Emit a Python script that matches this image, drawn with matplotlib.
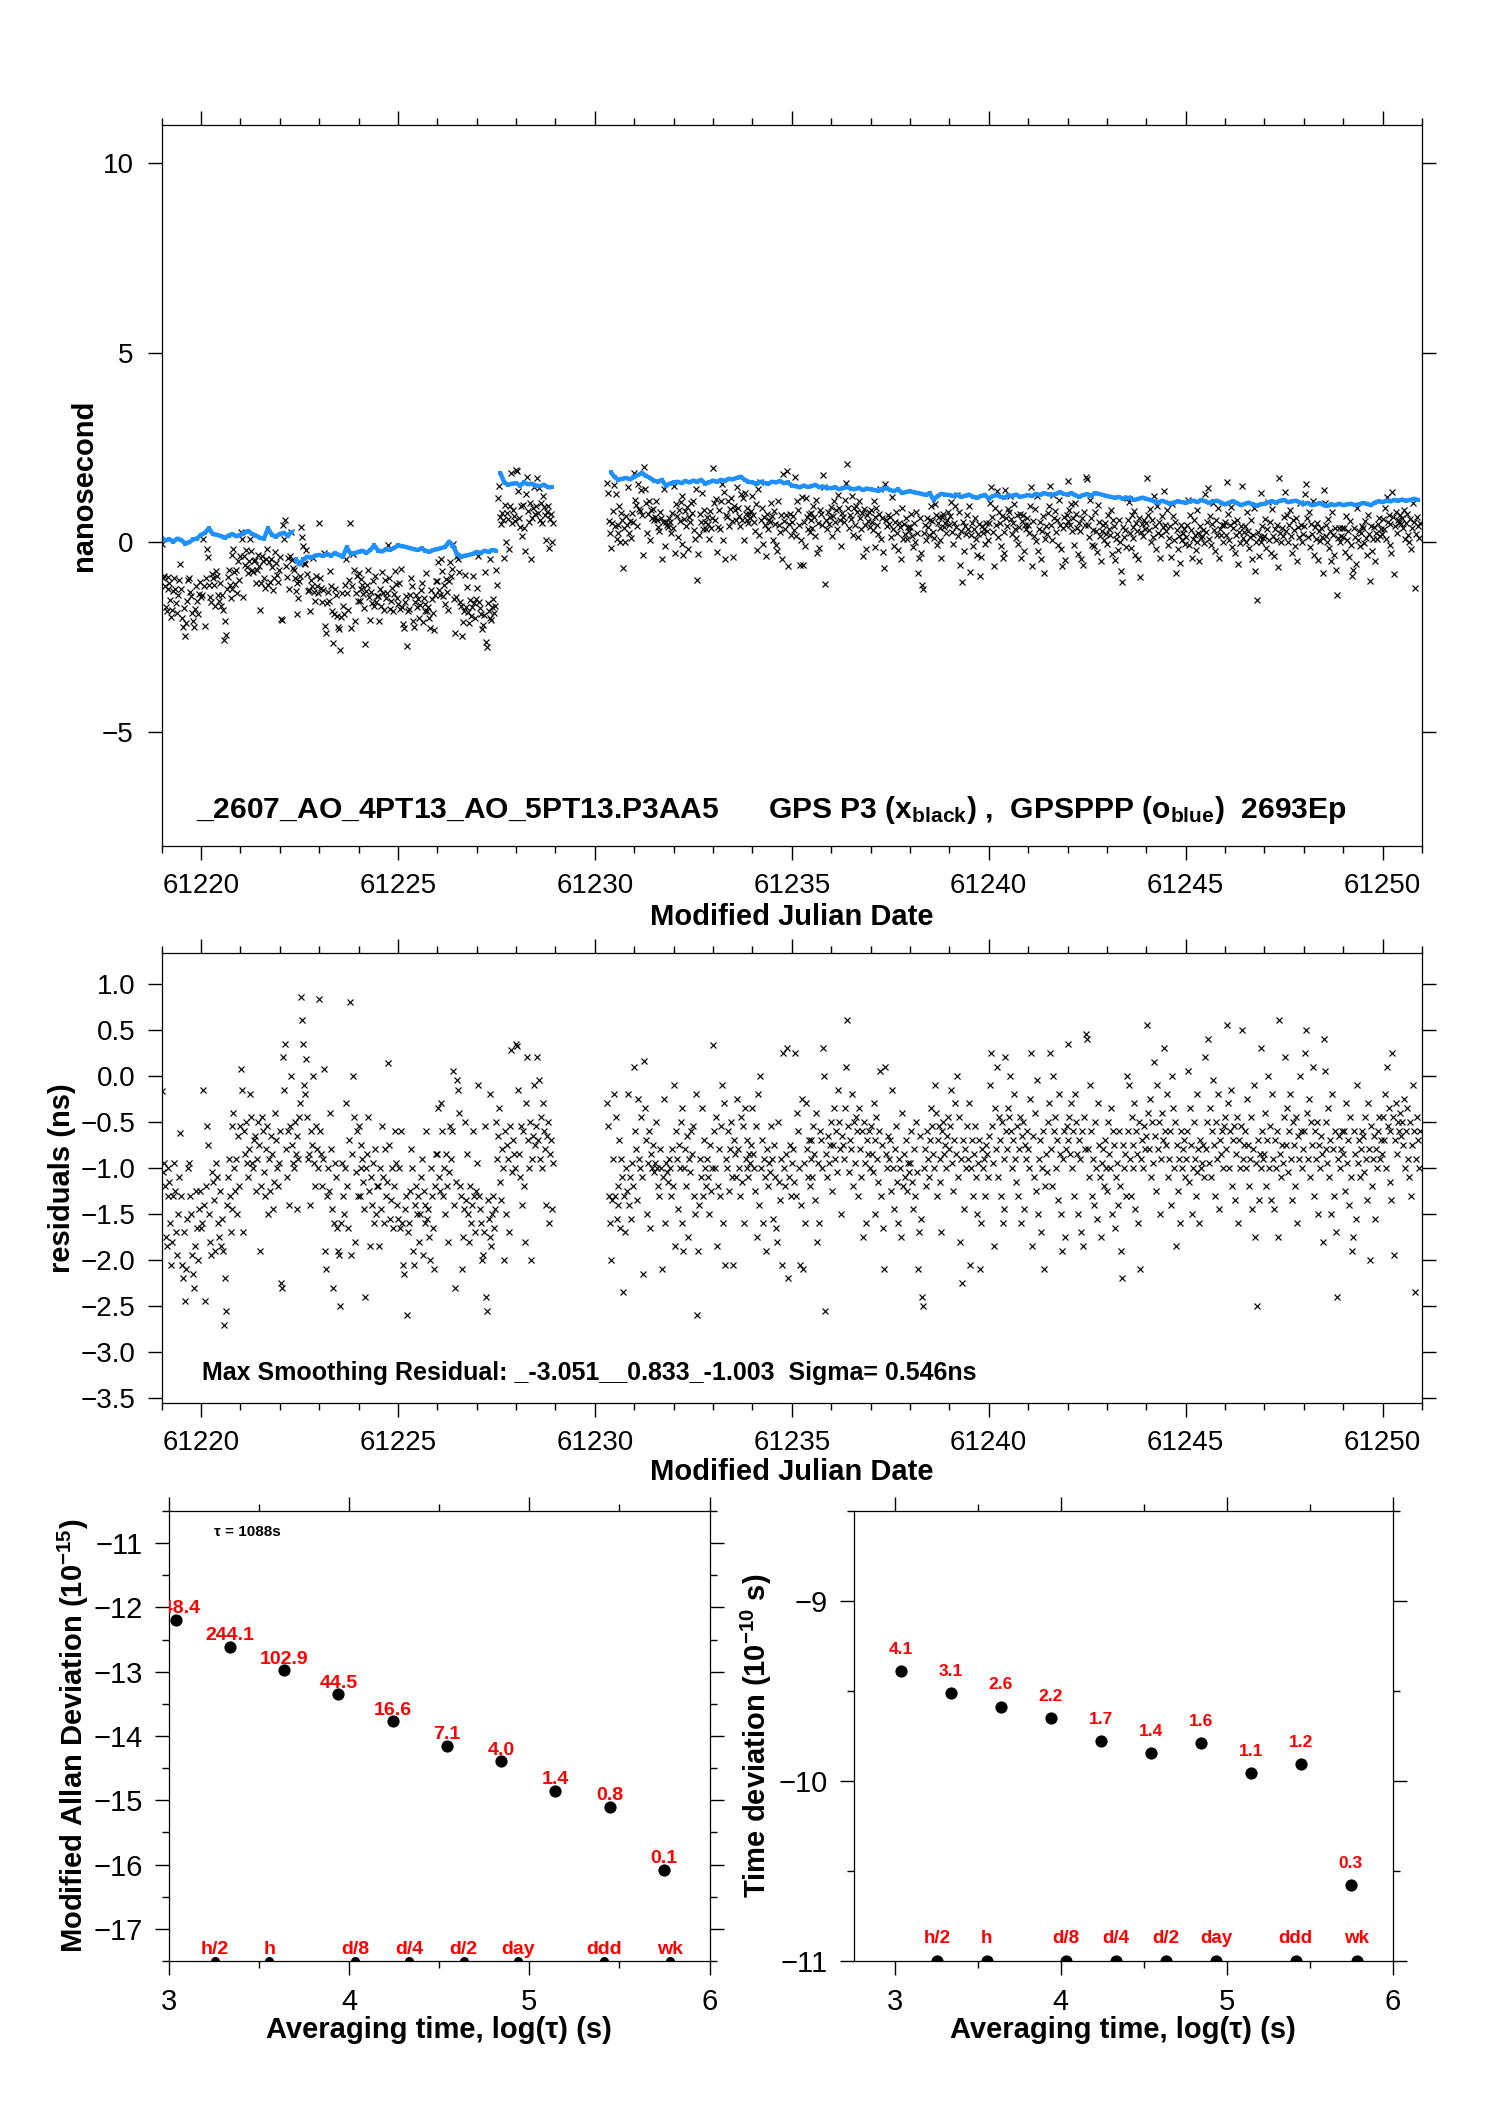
import numpy as np
import matplotlib
matplotlib.use('Agg')
import matplotlib.pyplot as plt
from matplotlib.ticker import MultipleLocator
from matplotlib.transforms import offset_copy

plt.rcParams['font.family'] = ['Liberation Sans', 'DejaVu Sans']
plt.rcParams['mathtext.fontset'] = 'custom'
plt.rcParams['mathtext.rm'] = 'Liberation Sans'
plt.rcParams['mathtext.bf'] = 'Liberation Sans:bold'
plt.rcParams['mathtext.it'] = 'Liberation Sans:italic'

# ---------------- data ----------------
# residuals (ns), segment 1: starts MJD 61219.0, 0.025 d sampling
resid1_start, resid_step = 61219.0, 0.025
resid1 = [
 -0.17,-1.05,-0.95,-1.2,-1.75,-1.85,-1.3,-1.0,-1.15,-1.6,-2.05,-1.8,-1.3,-0.95,-1.25,-1.7,-1.95,-1.5,-1.1,-0.62,
 -1.3,-2.05,-2.2,-1.7,-2.45,-2.1,-1.55,-1.0,-0.95,-1.3,-1.5,-1.95,-2.15,-2.3,-1.85,-1.25,-1.65,-2.0,-1.45,-1.25,
 -1.65,-1.6,-0.15,-1.4,-2.45,-1.2,-0.55,-0.75,-1.5,-1.8,-1.95,-1.05,-1.15,-1.35,-1.9,-0.95,-1.1,-1.6,-1.75,-1.25,
 -1.85,-1.55,-1.9,-2.7,-2.2,-2.55,-1.4,-1.1,-0.9,-1.3,-1.7,-0.55,-1.45,-0.4,-1.0,-1.25,-0.9,-1.5,-0.65,-1.2,
 -0.55,0.07,-0.15,-1.7,-0.6,-0.85,-0.5,-0.95,-1.1,-0.8,-0.2,-0.45,-0.95,-1.0,-0.7,-0.65,-1.25,-0.9,-0.5,-0.75,
 -1.9,-1.2,-0.45,-0.6,-1.05,-1.3,-0.8,-0.55,-1.5,-0.9,-1.25,-0.65,-0.85,-1.45,-1.15,-0.4,-0.7,-1.0,-1.2,-0.95,
 -0.6,-2.25,-2.3,0.2,-0.15,0.35,-0.8,-1.1,-0.6,-1.4,-0.55,0.0,-0.75,-0.95,-1.0,-0.5,-0.85,-1.45,-0.65,-0.9,
 -0.45,-0.3,0.85,0.6,0.35,-0.1,-0.2,0.18,-0.45,-0.9,-0.85,-1.4,-0.6,-0.75,0.0,-0.95,-1.2,-0.55,-0.8,-1.0,
 0.83,-0.6,-0.85,-1.2,-0.9,0.07,-1.9,-2.1,-1.3,-1.0,-1.25,-0.4,-0.8,-1.45,-2.3,-1.6,-0.95,-1.1,-1.65,-1.9,
 -1.95,-2.5,-1.6,-0.95,-1.3,-1.5,-1.0,-0.3,-1.2,-1.65,-0.7,0.8,-1.95,-0.85,0.0,-0.45,-1.8,-1.05,-0.6,-1.3,
 -0.55,-1.3,-1.0,-0.75,-0.9,-1.15,-1.45,-2.4,-1.0,-0.85,-0.45,-1.25,-1.85,-1.1,-1.4,-0.95,-1.6,-0.8,-1.5,-1.2,
 -1.2,-1.85,-1.0,-1.45,-0.55,-1.1,-1.6,-0.8,-1.3,-1.15,0.14,-0.75,-1.55,-1.35,-1.0,-1.65,-1.2,-0.6,-0.95,-1.4,
 -1.55,-1.0,-1.65,-0.6,-1.6,-2.05,-2.15,-1.45,-1.3,-2.6,-1.7,-1.6,-1.25,-0.8,-1.0,-1.9,-2.05,-1.4,-1.2,-1.5,
 -1.3,-1.8,-1.5,-1.1,-0.9,-1.95,-1.25,-1.6,-1.4,-0.6,-1.55,-1.45,-1.75,-2.0,-1.0,-1.3,-1.65,-2.1,-1.2,-0.85,
 -0.85,-0.35,-1.1,-1.25,-0.3,-0.6,-1.3,-1.0,-1.5,-0.85,-1.2,-1.8,-1.05,-0.55,-0.9,-0.6,0.05,-1.4,-2.3,-1.15,
 -0.05,-0.15,-0.4,-1.2,-1.3,-2.1,-1.75,-1.45,-0.5,-1.35,-0.85,-1.5,-1.8,-1.2,-1.6,-1.4,-0.6,-1.3,-1.7,-1.25,
 -0.95,-0.1,-1.3,-1.45,-1.6,-2.0,-1.95,-1.7,-0.55,-2.4,-2.55,-1.35,-1.55,-1.75,-0.2,-1.85,-1.5,-1.3,-1.65,-1.45,
 -0.5,-0.9,-0.65,-0.35,-1.15,-1.35,-0.8,-1.0,-2.0,-0.6,-1.5,-0.75,-0.9,-1.7,-0.55,0.28,-1.05,-0.7,-0.85,-1.0,
 0.35,0.32,-0.15,-0.85,-1.1,-0.55,-1.4,-0.6,-1.2,-1.8,-0.3,0.2,-0.7,-1.0,-0.5,-2.0,-0.9,-0.65,-0.1,-0.75,
 -0.55,0.2,-0.7,-0.05,-0.9,-0.45,-1.0,-0.3,-0.6,-0.8,-1.4,-0.65,-0.5,-1.6,-0.85,-0.7,-1.45,-0.95,
]
# residuals (ns), segment 2: starts MJD 61230.3
resid2_start = 61230.3
resid2 = [
 -0.3,-0.55,-1.3,-1.6,-2.0,-1.35,-0.9,-0.2,
 -1.3,-0.45,-1.55,-1.2,-1.4,-0.7,-1.65,-0.9,-1.1,-2.35,-1.3,-1.7,-1.0,-1.25,-0.2,-1.4,-1.1,-1.55,-0.95,-1.2,
 0.1,-0.6,-0.8,-1.35,-0.25,-0.9,-1.0,-0.45,-1.1,-2.15,0.16,-0.35,-0.7,-1.5,-0.95,-0.6,-1.65,-0.85,-1.0,-0.75,
 -1.05,-0.95,-0.5,-1.0,-1.2,-1.3,-0.8,-1.0,-2.1,-1.1,-0.25,-1.6,-0.95,-1.05,-1.15,-0.9,-1.0,-1.3,-0.8,-1.2,
 -0.1,-1.85,-0.6,-0.9,-1.45,-0.75,-1.0,-0.5,-1.6,-0.35,-1.9,-1.0,-0.8,-1.2,-0.65,-1.75,-0.9,-1.05,-0.6,-0.85,
 -0.55,-1.3,-1.5,-0.2,-2.6,-1.9,-1.4,-0.9,-1.1,-0.35,-1.3,-0.7,-1.0,-1.2,-0.9,-1.1,-1.5,-0.75,-1.25,-1.0,
 0.33,-0.6,-1.0,-0.45,-1.85,-1.2,-0.8,-1.3,-0.55,-0.1,-1.6,-0.3,-2.05,-0.9,-1.0,-0.6,-1.25,-0.8,-0.5,-1.1,
 -2.05,-0.7,-0.85,-1.1,-0.25,-0.8,-1.0,-1.3,-0.45,-1.15,-0.55,-1.6,-0.35,-0.9,-1.0,-0.7,-1.1,-0.85,-0.95,-0.75,
 -0.35,-0.85,-1.0,-1.25,-0.55,-1.75,-0.2,-1.4,0.0,-1.0,-0.7,-1.6,-0.9,-1.1,-1.9,-0.8,-1.2,-0.95,-1.05,-0.55,
 -0.9,-1.55,-0.75,-1.1,-1.65,-1.8,-0.5,-1.15,-1.35,-0.9,-2.05,0.25,-1.0,-1.2,-0.85,0.3,-2.2,-1.1,-0.75,-1.3,
 -0.95,-0.8,-1.15,0.25,-1.3,-0.4,-0.6,-1.0,-2.05,-1.4,-0.25,-2.1,-0.95,-1.6,-0.3,-0.8,-1.1,-0.7,-1.2,-0.9,
 -0.7,-1.1,-0.55,-0.85,-1.35,-0.4,-1.8,-0.95,-1.6,-0.6,-0.7,-1.0,0.3,0.0,-2.55,-0.85,-1.1,-0.65,-0.95,-0.75,
 -0.5,-1.25,-0.75,-0.35,-0.9,-0.6,-1.05,-0.15,-0.5,-0.8,-1.5,-0.65,-0.75,-0.9,-0.35,0.1,0.6,-0.55,-1.05,-0.7,
 -0.8,-0.2,-1.2,-0.5,-0.95,-0.45,-0.6,-1.3,-0.35,-0.8,-1.1,-0.6,-1.75,-0.5,-0.95,-1.6,-0.7,-0.85,-0.6,-1.0,
 -0.55,-0.85,-1.05,-0.3,-1.5,-0.7,-0.45,-0.9,-1.15,-0.6,0.05,-1.3,-0.75,-1.65,-2.1,0.1,-0.85,-1.0,-0.65,-0.9,
 -0.7,-1.25,-0.15,-1.0,-1.45,-0.8,-0.55,-1.15,-1.6,-0.9,-1.0,-1.75,-0.4,-1.2,-0.85,-1.1,-0.7,-1.25,-0.95,-1.05,
 -0.95,-0.6,-1.15,-1.45,-0.8,-1.3,-0.5,-1.05,-2.1,-1.7,-0.65,-1.55,-2.4,-2.5,-1.0,-0.8,-1.2,-0.6,-0.9,-1.1,
 -0.7,-0.35,-0.55,-0.85,-1.0,-0.1,-0.4,-1.3,-0.7,-0.55,-1.15,-0.9,-1.7,-0.6,-0.5,-0.85,-0.75,-1.0,-0.65,-0.45,
 -0.8,-0.55,-0.15,-0.95,-1.25,-0.7,-0.3,-0.85,0.0,-1.1,-0.45,-1.8,-0.9,-2.25,-0.7,-1.45,-0.8,-1.0,-0.55,-0.9,
 -0.3,-2.05,-1.0,-0.7,-1.3,-0.85,-0.55,-1.1,-1.5,-0.95,-0.7,-2.1,-1.6,-0.8,-1.0,-0.9,-1.3,-0.75,-0.85,-1.1,
 -0.65,-0.1,0.25,-0.55,-0.95,-1.85,-0.35,-0.8,0.1,-1.1,-0.45,-0.7,-1.3,-0.5,-1.6,-0.9,-1.45,0.2,-0.6,-0.8,
 -0.35,-0.45,0.0,-0.6,-1.0,-0.7,-0.2,-0.9,-1.15,-0.55,-1.3,-0.8,-0.45,-1.6,-0.65,-0.5,-1.45,-0.75,-0.9,-0.6,
 -0.8,-1.0,-0.25,0.25,-1.85,-0.65,-1.1,-0.4,-1.25,-0.05,-1.5,-0.9,-0.7,-1.7,-1.0,-0.6,-2.1,-1.2,-0.85,-1.05,
 -0.5,-0.3,0.25,-0.8,-1.2,0.0,-0.6,-0.45,-1.0,-0.7,-1.35,-0.2,-0.85,-1.5,-1.9,-0.9,-0.6,-1.75,-0.8,-0.55,
 -0.7,0.35,-0.45,-0.85,-0.3,-1.0,-0.6,-1.3,-0.2,-0.5,-0.85,-1.5,-0.7,-0.9,-1.7,-0.6,-1.85,-0.45,-0.8,0.45,
 0.4,-0.8,-1.1,-0.1,-0.6,-1.3,-0.9,-1.4,-0.5,-1.0,-1.55,-0.3,-0.75,-1.1,-1.75,-0.95,-0.8,-1.2,-0.7,-1.0,
 -1.25,-0.5,-0.85,-1.0,-0.35,-1.5,-0.6,-0.75,-1.65,-1.1,-0.95,-1.4,-0.6,-1.2,-1.9,-2.2,-0.75,-1.0,-0.85,-1.3,
 0.0,-0.6,-0.1,-0.9,-1.3,-0.45,-0.75,-1.0,-0.3,-1.45,-0.6,-0.85,-1.6,-0.5,-2.1,-0.9,-0.7,-1.0,-0.55,-0.8,
 -0.65,0.55,-0.4,-0.8,-0.25,-1.1,-0.5,-0.95,0.15,-0.65,-1.25,-0.1,-0.8,-0.5,-1.5,-0.9,-0.4,-0.7,0.3,-0.6,
 -0.75,-0.2,-1.1,-0.9,-0.6,-1.4,0.0,-0.35,-1.0,-0.5,-1.85,-0.75,-1.25,-0.9,-1.6,-0.6,-1.0,-0.8,-0.7,-1.1,
 -0.9,-0.6,0.05,-1.15,-0.35,-0.75,-1.5,-1.0,-0.5,-0.9,-1.3,-0.2,-1.05,-0.8,-1.6,-0.7,-1.0,-0.95,-0.75,-1.1,
 0.2,-0.8,-0.5,0.4,-0.95,-0.35,-1.1,-0.6,-0.05,-0.75,-1.3,-0.5,-0.9,-0.2,-1.45,-0.7,-0.85,-0.6,-1.0,-0.55,
 -0.45,-0.8,0.55,-0.3,-1.0,-0.6,-0.15,-1.2,-0.7,-0.55,-1.35,-0.85,-0.45,-1.6,-0.7,-1.0,-0.55,0.5,-0.9,-0.75,
 -0.6,-1.0,-0.25,-0.75,-1.2,-0.9,-0.45,-1.45,-0.8,-0.1,-1.75,-0.95,-2.5,-0.7,-1.35,-0.85,-1.0,0.3,-0.6,-0.9,
 -0.85,-0.4,-1.2,-0.7,0.0,-1.0,-0.55,-1.35,-0.2,-0.9,-1.45,-0.7,-1.0,-0.6,-1.75,0.6,-0.85,-1.1,-0.75,-0.95,
 -0.45,0.2,-0.75,-0.35,-1.05,-0.6,-0.2,-0.9,-1.35,-0.5,-0.75,-1.2,-0.45,-1.6,-0.65,-0.9,0.0,-0.6,-1.0,-0.8,
 -0.6,0.25,0.5,-0.4,-0.9,-0.25,-1.1,-0.5,-0.75,0.1,-1.3,-0.6,-0.9,-0.5,-1.5,-0.75,-1.0,-0.65,-0.85,-1.8,
 0.4,0.05,-0.8,-0.5,-0.95,-0.35,-1.1,-0.7,-1.5,-0.2,-0.8,-1.3,-0.6,-1.7,-2.4,-0.9,-0.65,-1.0,-0.8,-0.6,
 -0.85,-0.6,-1.25,-0.3,-0.95,-0.7,-1.4,-0.45,-1.1,-1.9,-1.75,-0.6,-0.85,-1.55,-0.1,-0.95,-0.7,-1.1,-0.8,-0.6,
 -0.65,-1.05,-0.45,-0.9,-1.35,-0.3,-0.8,-2.0,-0.55,-1.2,-0.9,-0.65,-1.55,-0.8,-1.0,-0.6,-0.45,-0.9,-0.7,-0.85,
 -0.45,-0.7,-0.2,-1.0,0.1,-0.55,-0.35,-1.15,-0.6,-1.35,0.25,-0.45,-1.95,-0.7,-0.3,-0.85,-0.5,-0.6,-0.4,-0.65,
 -0.5,-0.75,-0.25,-1.0,-0.6,-0.35,-0.9,-1.1,-0.5,-1.3,-0.75,-0.1,-0.6,-2.35,-0.9,-0.45,-0.7,-1.0,-0.6,
]

# GPSPPP (blue), 0.1 d sampling
blue_step = 0.1
blue1_start = 61219.0
blue1 = [
 0.12,0.05,0.08,0.02,0.1,0.06,-0.03,0.0,0.08,0.1,
 0.2,0.25,0.37,0.22,0.2,0.17,0.12,0.18,0.22,0.16,
 0.2,0.25,0.3,0.22,0.18,0.12,0.1,0.37,0.2,0.15,
 0.22,0.25,0.18,0.28,
 -0.43,-0.58,-0.45,-0.38,-0.4,-0.35,
 -0.33,-0.36,-0.3,-0.35,-0.28,-0.33,-0.38,-0.13,-0.3,-0.28,
 -0.25,-0.22,-0.28,-0.2,-0.08,-0.22,-0.24,-0.18,-0.2,-0.15,
 -0.08,-0.1,-0.12,-0.15,-0.18,-0.2,-0.16,-0.22,-0.25,-0.2,
 -0.18,-0.15,-0.12,0.02,-0.1,-0.3,-0.38,-0.35,-0.33,-0.3,
 -0.25,-0.28,-0.22,-0.25,-0.2,-0.22,
 1.83,1.58,1.52,1.55,
 1.56,1.5,1.58,1.53,1.55,1.5,1.48,1.52,1.46,1.45,
]
blue2_start = 61230.4
blue2 = [
 1.86,1.72,1.65,1.68,1.7,1.66,
 1.73,1.78,1.83,1.75,1.7,1.63,1.6,1.65,1.5,1.55,
 1.58,1.6,1.56,1.62,1.58,1.63,1.6,1.65,1.55,1.58,
 1.63,1.6,1.65,1.62,1.68,1.66,1.7,1.73,1.65,1.6,
 1.58,1.55,1.6,1.57,1.55,1.6,1.58,1.62,1.56,1.58,
 1.5,1.48,1.45,1.5,1.46,1.48,1.52,1.45,1.47,1.44,
 1.43,1.45,1.4,1.43,1.46,1.42,1.4,1.44,1.38,1.42,
 1.4,1.38,1.36,1.4,1.43,1.38,1.35,1.4,1.3,1.33,
 1.35,1.32,1.3,1.28,1.25,1.3,1.12,1.22,1.28,1.26,
 1.25,1.22,1.26,1.2,1.23,1.26,1.2,1.18,1.22,1.25,
 1.15,1.22,1.25,1.2,1.18,1.24,1.22,1.26,1.2,1.22,
 1.25,1.22,1.28,1.25,1.3,1.27,1.25,1.28,1.32,1.28,
 1.26,1.3,1.24,1.2,1.25,1.27,1.23,1.3,1.28,1.25,
 1.22,1.2,1.18,1.2,1.15,1.18,1.16,1.12,1.15,1.18,
 1.15,1.12,1.08,1.05,1.1,1.06,1.02,1.05,1.08,1.06,
 1.05,1.08,1.1,1.06,1.12,1.08,1.04,1.08,1.1,1.05,
 1.0,1.05,1.08,1.04,0.98,1.02,1.05,1.0,0.97,1.0,
 1.02,1.06,1.08,1.05,1.1,1.12,1.06,1.08,1.1,1.05,
 1.02,1.04,0.98,1.0,1.04,0.98,0.96,1.0,0.98,1.02,
 0.98,1.0,1.02,0.98,1.0,1.04,1.02,0.98,1.05,1.08,
 1.06,1.1,1.08,1.12,1.1,1.13,1.1,1.12,1.15,1.12,
]

# stability analysis
log_tau = [3.037, 3.338, 3.639, 3.940, 4.241, 4.542, 4.843, 5.144, 5.445, 5.746]
log_mdev = [-12.19, -12.61, -12.98, -13.35, -13.77, -14.15, -14.39, -14.85, -15.10, -16.08]
mdev_labels = ['648.4', '244.1', '102.9', '44.5', '16.6', '7.1', '4.0', '1.4', '0.8', '0.1']
log_tdev = [-9.389, -9.513, -9.587, -9.651, -9.777, -9.847, -9.791, -9.955, -9.906, -10.577]
tdev_labels = ['4.1', '3.1', '2.6', '2.2', '1.7', '1.4', '1.6', '1.1', '1.2', '0.3']
mark_log_tau = [3.255, 3.556, 4.033, 4.334, 4.635, 4.936, 5.414, 5.782]
mark_labels = ['h/2', 'h', 'd/8', 'd/4', 'd/2', 'day', 'ddd', 'wk']

title_txt = (r'_2607_AO_4PT13_AO_5PT13.P3AA5      GPS P3 ($\mathbf{x}_{\mathbf{black}}$) ,  '
             r'GPSPPP ($\mathbf{o}_{\mathbf{blue}}$)  2693Ep')
resid_txt = 'Max Smoothing Residual: _-3.051__0.833_-1.003  Sigma= 0.546ns'
tau_txt = 'τ = 1088s'

# ---------------- derived series ----------------
r1 = np.array(resid1); r2 = np.array(resid2)
t1 = resid1_start + resid_step * np.arange(len(r1))
t2 = resid2_start + resid_step * np.arange(len(r2))
b1 = np.array(blue1); b2 = np.array(blue2)
tb1 = blue1_start + blue_step * np.arange(len(b1))
tb2 = blue2_start + blue_step * np.arange(len(b2))
i1 = np.clip(np.round((t1 - blue1_start) / blue_step).astype(int), 0, len(b1) - 1)
i2 = np.clip(np.round((t2 - blue2_start) / blue_step).astype(int), 0, len(b2) - 1)
black1 = b1[i1] + r1
black2 = b2[i2] + r2


def break_jumps(t, v, thr=0.5):
    """Insert NaN where the series jumps so the drawn line is not joined."""
    tt, vv = [t[0]], [v[0]]
    for k in range(1, len(v)):
        if abs(v[k] - v[k - 1]) > thr:
            tt.append(np.nan); vv.append(np.nan)
        tt.append(t[k]); vv.append(v[k])
    return np.array(tt), np.array(vv)

# ---------------- figure ----------------
W, H = 1488, 2105
fig = plt.figure(figsize=(W / 100, H / 100), dpi=100)

def box(l, t, r, b):
    return [l / W, 1 - b / H, (r - l) / W, (b - t) / H]

def style(ax, fs, xpad, ypad):
    ax.tick_params(which='both', direction='out', top=True, right=True,
                   width=1.0, color='black', labelsize=fs)
    ax.tick_params(which='major', length=10)
    ax.tick_params(which='minor', length=5)
    ax.tick_params(axis='x', pad=xpad)
    ax.tick_params(axis='y', pad=ypad)
    for s in ax.spines.values():
        s.set_linewidth(0.9)

XCOL = 'black'
BLUE = '#1E90FF'
XMS, XMEW = 4.6, 0.85

# top panel
ax1 = fig.add_axes(box(161.6, 125.3, 1422, 845.7))
ax1.plot(t1, black1, 'x', color=XCOL, ms=XMS, mew=XMEW)
ax1.plot(t2, black2, 'x', color=XCOL, ms=XMS, mew=XMEW)
for tb, bb in ((tb1, b1), (tb2, b2)):
    lt, lv = break_jumps(tb, bb)
    ax1.plot(lt, lv, '-', color=BLUE, lw=3.2, solid_capstyle='butt')
    ax1.plot(tb, bb, 's', color=BLUE, ms=3.4, mew=0)
ax1.set_xlim(61219, 61251)
ax1.set_ylim(-8, 11)
ax1.xaxis.set_major_locator(MultipleLocator(5))
ax1.xaxis.set_minor_locator(MultipleLocator(1))
ax1.yaxis.set_major_locator(MultipleLocator(5))
ax1.xaxis.set_major_formatter(plt.FuncFormatter(lambda v, p: '%d' % v))
style(ax1, 20, 9.5, 10)
ax1.text(0.027, 0.0496, title_txt, transform=ax1.transAxes, fontsize=21.6,
         fontweight='bold', ha='left', va='center')

# residual panel
ax2 = fig.add_axes(box(161.6, 953.3, 1422, 1403.2))
ax2.plot(t1, r1, 'x', color=XCOL, ms=XMS, mew=XMEW)
ax2.plot(t2, r2, 'x', color=XCOL, ms=XMS, mew=XMEW)
ax2.set_xlim(61219, 61251)
ax2.set_ylim(-3.554, 1.329)
ax2.xaxis.set_major_locator(MultipleLocator(5))
ax2.xaxis.set_minor_locator(MultipleLocator(1))
ax2.yaxis.set_major_locator(MultipleLocator(0.5))
ax2.xaxis.set_major_formatter(plt.FuncFormatter(lambda v, p: '%d' % v))
ax2.yaxis.set_major_formatter(plt.FuncFormatter(lambda v, p: ('%.1f' % v).replace('-', '\u2212')))
style(ax2, 20, 9.5, 9)
ax2.text(0.032, 0.067, resid_txt, transform=ax2.transAxes, fontsize=18,
         fontweight='bold', ha='left', va='center')

# Modified Allan deviation panel
ax3 = fig.add_axes(box(169, 1511, 709.6, 1961))
ax3.plot(log_tau, log_mdev, 'o', color='black', ms=8.8, mew=0)
ax3.plot(mark_log_tau, [-17.5] * len(mark_log_tau), 'o', color='black', ms=6.5, mew=0)
ax3.set_xlim(3, 6)
ax3.set_ylim(-17.5, -10.5)
ax3.xaxis.set_major_locator(MultipleLocator(1))
ax3.xaxis.set_minor_locator(MultipleLocator(0.5))
ax3.yaxis.set_major_locator(MultipleLocator(1))
ax3.yaxis.set_minor_locator(MultipleLocator(0.5))
style(ax3, 21, 9.5, 9)
tr3 = offset_copy(ax3.transData, fig=fig, x=0, y=4.7, units='points')
for x, y, s in zip(log_tau, log_mdev, mdev_labels):
    t = ax3.text(x, y, s, transform=tr3, ha='center', va='baseline', color='red',
                 fontsize=14, fontweight='bold', clip_on=True)
    t.set_clip_box(ax3.bbox)
tr3b = offset_copy(ax3.transData, fig=fig, x=0, y=5.0, units='points')
for x, s in zip(mark_log_tau, mark_labels):
    ax3.text(x, -17.5, s, transform=tr3b, ha='center', va='baseline', color='red',
             fontsize=14, fontweight='bold')
ax3.text(3.25, -10.82, tau_txt, fontsize=11, fontweight='bold', ha='left', va='center')

# time deviation panel
ax4 = fig.add_axes(box(853.8, 1511, 1393, 1961))
ax4.plot(log_tau, log_tdev, 'o', color='black', ms=8.8, mew=0)
ax4.plot(mark_log_tau, [-11] * len(mark_log_tau), 'o', color='black', ms=8.8, mew=0)
ax4.set_xlim(2.755, 6)
ax4.set_ylim(-11, -8.5)
ax4.xaxis.set_major_locator(MultipleLocator(1))
ax4.xaxis.set_minor_locator(MultipleLocator(0.5))
ax4.yaxis.set_major_locator(MultipleLocator(1))
ax4.yaxis.set_minor_locator(MultipleLocator(0.5))
style(ax4, 21, 9.5, 9)
tr4 = offset_copy(ax4.transData, fig=fig, x=0, y=12.4, units='points')
for x, y, s in zip(log_tau, log_tdev, tdev_labels):
    ax4.text(x, y, s, transform=tr4, ha='center', va='baseline', color='red',
             fontsize=12.5, fontweight='bold')
tr4b = offset_copy(ax4.transData, fig=fig, x=0, y=12.6, units='points')
for x, s in zip(mark_log_tau, mark_labels):
    ax4.text(x, -11, s, transform=tr4b, ha='center', va='baseline', color='red',
             fontsize=13.5, fontweight='bold')

# axis labels
def ftext(x, y, s, rot=0):
    fig.text(x / W, 1 - y / H, s, rotation=rot, ha='center', va='center',
             fontsize=21, fontweight='bold')

ftext(83.7, 485.5, 'nanosecond', 90)
ftext(791.8, 916.7, 'Modified Julian Date')
ftext(62.2, 1178, 'residuals (ns)', 90)
ftext(791.8, 1472, 'Modified Julian Date')
ftext(73.5, 1736, r'Modified Allan Deviation (10$^{\mathbf{-15}}$)', 90)
ftext(756.7, 1736, r'Time deviation (10$^{\mathbf{-10}}$ s)', 90)
ftext(439.3, 2029.6, 'Averaging time, log(τ) (s)')
ftext(1123.4, 2029.6, 'Averaging time, log(τ) (s)')

fig.savefig('out.png', dpi=100)
